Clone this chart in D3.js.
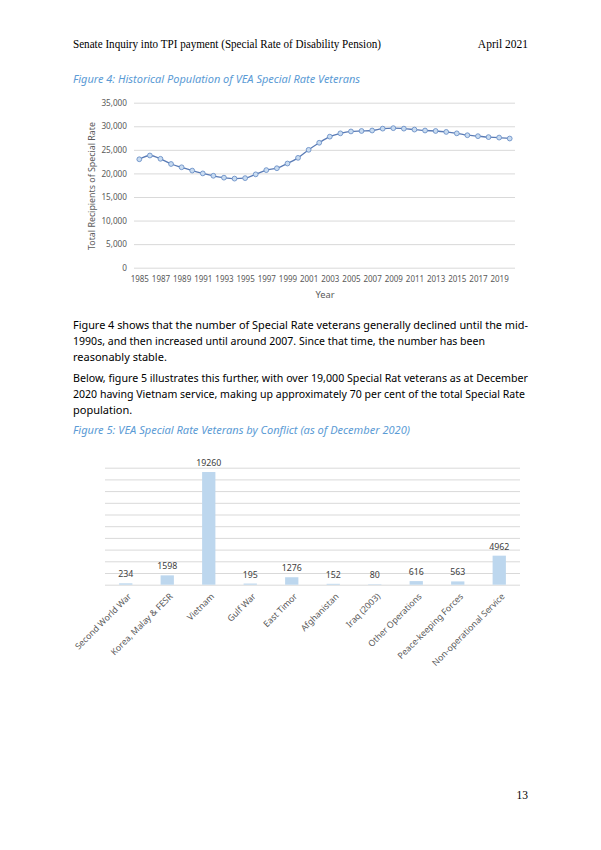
<!DOCTYPE html>
<html>
<head>
<meta charset="utf-8">
<script src="https://cdn.jsdelivr.net/npm/d3@7"></script>
<style>
  body { margin: 0; background: #fff; }
  svg text { font-family: "Noto Sans", "Open Sans", sans-serif; }
  .serif { font-family: "Liberation Serif", "DejaVu Serif", serif !important; }
  .tick line { stroke: #d9d9d9; }
  .domain { display: none; }
</style>
</head>
<body>
<div id="page"></div>
<script>
// figure 4 data
const years = d3.range(1985, 2021);
const recipients = [23000, 23800, 23100, 22000, 21300, 20600, 20000, 19500, 19100, 18900,
  19000, 19800, 20700, 21100, 22100, 23300, 25000, 26500, 27800, 28500,
  28900, 29000, 29100, 29500, 29600, 29500, 29300, 29100, 29000, 28800,
  28500, 28100, 27900, 27700, 27600, 27400];
const yearTicks = d3.range(1985, 2020, 2);
const recipTicks = d3.range(0, 35001, 5000);

// figure 5 data
const conflicts = ["Second World War", "Korea, Malay & FESR", "Vietnam", "Gulf War", "East Timor",
  "Afghanistan", "Iraq (2003)", "Other Operations", "Peace-keeping Forces", "Non-operational Service"];
const veterans = [234, 1598, 19260, 195, 1276, 152, 80, 616, 563, 4962];
const vetTicks = d3.range(0, 20001, 2000);

const para1 = [
  "Figure 4 shows that the number of Special Rate veterans generally declined until the mid-",
  "1990s, and then increased until around 2007.  Since that time, the number has been",
  "reasonably stable."];
const para2 = [
  "Below, figure 5 illustrates this further, with over 19,000 Special Rat veterans as at December",
  "2020 having Vietnam service, making up approximately 70 per cent of the total Special Rate",
  "population."];

const W = 601, H = 850;
const svg = d3.select("#page").append("svg")
  .attr("width", W).attr("height", H);

// page header
svg.append("text").attr("class", "serif")
  .attr("x", 73).attr("y", 48)
  .attr("font-size", 11.5).attr("fill", "#000")
  .attr("textLength", 308).attr("lengthAdjust", "spacingAndGlyphs")
  .text("Senate Inquiry into TPI payment (Special Rate of Disability Pension)");
svg.append("text").attr("class", "serif")
  .attr("x", 528).attr("y", 48).attr("text-anchor", "end")
  .attr("font-size", 11.5).attr("fill", "#000")
  .text("April 2021");

function caption(y, txt, len) {
  svg.append("text")
    .attr("x", 73).attr("y", y)
    .attr("font-size", 10.5).attr("font-style", "italic").attr("fill", "#5b9bd5")
    .attr("textLength", len).attr("lengthAdjust", "spacingAndGlyphs")
    .text(txt);
}
caption(83, "Figure 4: Historical Population of VEA Special Rate Veterans", 287);

// ---- figure 4: line chart ----
const x1 = d3.scalePoint().domain(years).range([134, 515]).padding(0.5);
const y1 = d3.scaleLinear().domain([0, 35000]).range([267.7, 102.7]);

svg.append("g")
  .attr("transform", "translate(134,0)")
  .call(d3.axisLeft(y1).tickValues(recipTicks).tickFormat(d3.format(",")).tickSize(-381).tickPadding(7))
  .call(g => g.selectAll("text").attr("fill", "#595959").attr("font-size", 8.2))
  .call(g => g.selectAll("line").attr("stroke", "#d9d9d9"));

svg.append("g")
  .attr("transform", "translate(0,267.7)")
  .call(d3.axisBottom(x1).tickValues(yearTicks).tickSize(0).tickPadding(9))
  .call(g => g.selectAll("text").attr("fill", "#595959").attr("font-size", 8));

svg.append("text")
  .attr("transform", "translate(95,186) rotate(-90)")
  .attr("text-anchor", "middle").attr("font-size", 9.8).attr("fill", "#595959")
  .attr("textLength", 128).attr("lengthAdjust", "spacingAndGlyphs")
  .text("Total Recipients of Special Rate");
svg.append("text")
  .attr("x", 325).attr("y", 298).attr("text-anchor", "middle")
  .attr("font-size", 9.3).attr("fill", "#595959")
  .text("Year");

const line = d3.line()
  .x((d, i) => x1(years[i]))
  .y(d => y1(d))
  .curve(d3.curveMonotoneX);
svg.append("path")
  .datum(recipients)
  .attr("d", line)
  .attr("fill", "none").attr("stroke", "#5a7bb5").attr("stroke-width", 1.3);
svg.append("g").selectAll("circle")
  .data(recipients)
  .join("circle")
  .attr("cx", (d, i) => x1(years[i]))
  .attr("cy", d => y1(d))
  .attr("r", 2.4)
  .attr("fill", "#c9dcf1").attr("stroke", "#6c91c7").attr("stroke-width", 0.9);

// ---- body text ----
function paragraph(lines, y0, lens) {
  lines.forEach((t, i) => {
    const tx = svg.append("text")
      .attr("x", 73).attr("y", y0 + i * 16)
      .attr("font-size", 11).attr("fill", "#000")
      .text(t);
    if (lens[i]) tx.attr("textLength", lens[i]).attr("lengthAdjust", "spacingAndGlyphs");
  });
}
paragraph(para1, 329, [455, 412, 0]);
paragraph(para2, 382, [455, 452, 0]);

caption(434, "Figure 5: VEA Special Rate Veterans by Conflict (as of December 2020)", 337);

// ---- figure 5: bar chart ----
const x2 = d3.scaleBand().domain(conflicts).range([105, 520]);
const y2 = d3.scaleLinear().domain([0, 20000]).range([584.7, 467.7]);

svg.append("g")
  .attr("transform", "translate(105,0)")
  .call(d3.axisLeft(y2).tickValues(vetTicks).tickSize(-415).tickFormat(""))
  .call(g => g.selectAll("line").attr("stroke", "#d9d9d9"));

const bw = x2.bandwidth() * 0.32;
svg.append("g").selectAll("rect")
  .data(veterans)
  .join("rect")
  .attr("x", (d, i) => x2(conflicts[i]) + x2.bandwidth() / 2 - bw / 2)
  .attr("y", d => y2(d))
  .attr("width", bw)
  .attr("height", d => y2(0) - y2(d))
  .attr("fill", "#bdd7ee");

svg.append("g").selectAll("text")
  .data(veterans)
  .join("text")
  .attr("x", (d, i) => x2(conflicts[i]) + x2.bandwidth() / 2)
  .attr("y", d => y2(d) - 6)
  .attr("text-anchor", "middle")
  .attr("font-size", 8.8).attr("fill", "#404040")
  .text(d => d);

svg.append("g").selectAll("text")
  .data(conflicts)
  .join("text")
  .attr("transform", d => "translate(" + (x2(d) + x2.bandwidth() / 2 + 6) + ",597) rotate(-45)")
  .attr("text-anchor", "end")
  .attr("font-size", 8.7).attr("fill", "#595959")
  .text(d => d);

// page number
svg.append("text").attr("class", "serif")
  .attr("x", 528).attr("y", 799).attr("text-anchor", "end")
  .attr("font-size", 11.5).attr("fill", "#000")
  .text("13");
</script>
</body>
</html>
